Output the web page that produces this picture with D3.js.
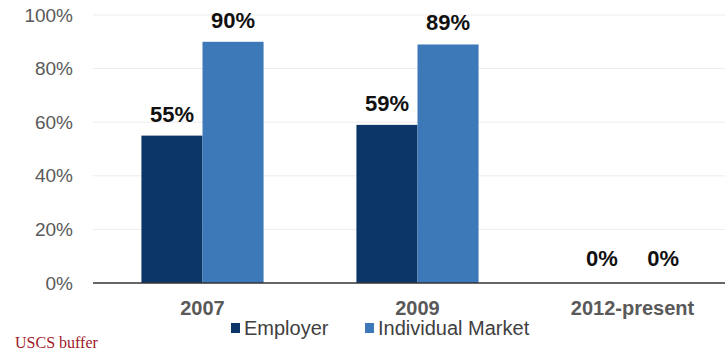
<!DOCTYPE html>
<html>
<head>
<meta charset="utf-8">
<script src="https://cdn.jsdelivr.net/npm/d3@7"></script>
<style>
  body { margin: 0; background: #fff; }
  svg { font-family: Arial, "Liberation Sans", sans-serif; }
</style>
</head>
<body>
<svg id="chart" width="725" height="350"></svg>
<script>
  const categories = ['2007', '2009', '2012-present'];
  const seriesNames = ['Employer', 'Individual Market'];
  const employer = [55, 59, 0];
  const individual = [90, 89, 0];
  const yTicks = [0, 20, 40, 60, 80, 100];
  const colors = ['#0c3667', '#3d79b8'];

  const svg = d3.select('#chart');
  const yBottom = 283;
  const yTop = 15;

  const data = categories.map((c, i) => ({
    cat: c,
    values: [employer[i], individual[i]]
  }));

  const yScale = d3.scaleLinear()
    .domain([0, 100])
    .range([yBottom, yTop]);

  const x0 = d3.scaleBand()
    .domain(categories)
    .range([95, 740])
    .padding(0);

  const x1 = d3.scaleBand()
    .domain(seriesNames)
    .range([0, x0.bandwidth()])
    .paddingInner(0)
    .paddingOuter(0.76);

  // gridlines
  svg.append('g')
    .selectAll('line').data(yTicks.filter(t => t > 0))
    .enter().append('line')
      .attr('x1', 93)
      .attr('x2', 725)
      .attr('y1', d => yScale(d))
      .attr('y2', d => yScale(d))
      .attr('stroke', '#ececec')
      .attr('stroke-width', 1);

  // y axis labels
  const yAxis = d3.axisLeft(yScale)
    .tickValues(yTicks)
    .tickFormat(d => d + '%')
    .tickSize(0)
    .tickPadding(0);

  const yAxisG = svg.append('g')
    .attr('transform', 'translate(73,0)')
    .call(yAxis);
  yAxisG.select('.domain').remove();
  yAxisG.selectAll('text')
    .attr('font-size', 19)
    .attr('fill', '#595959')
    .attr('font-family', 'Arial, "Liberation Sans", sans-serif');

  // bars
  const groups = svg.append('g')
    .selectAll('g').data(data)
    .enter().append('g')
      .attr('transform', d => `translate(${x0(d.cat)},0)`);

  groups.selectAll('rect')
    .data(d => d.values.map((v, i) => ({ key: seriesNames[i], v, i })))
    .enter().append('rect')
      .attr('x', d => x1(d.key))
      .attr('y', d => yScale(d.v))
      .attr('width', x1.bandwidth())
      .attr('height', d => yBottom - yScale(d.v))
      .attr('fill', d => colors[d.i]);

  groups.selectAll('text.val')
    .data(d => d.values.map((v, i) => ({ key: seriesNames[i], v, i })))
    .enter().append('text')
      .attr('class', 'val')
      .attr('x', d => x1(d.key) + x1.bandwidth() / 2)
      .attr('y', d => yScale(d.v) - (d.v === 0 ? 17 : 14))
      .attr('text-anchor', 'middle')
      .attr('font-size', 22)
      .attr('font-weight', 'bold')
      .attr('fill', '#111')
      .text(d => d.v + '%');

  // x axis
  const xAxis = d3.axisBottom(x0).tickSize(0).tickPadding(0);
  const xAxisG = svg.append('g')
    .attr('transform', `translate(0,${yBottom})`)
    .call(xAxis);
  xAxisG.select('.domain').remove();
  xAxisG.selectAll('text')
    .attr('dy', null)
    .attr('y', 32)
    .attr('font-size', 20)
    .attr('font-weight', 'bold')
    .attr('fill', '#595959')
    .attr('font-family', 'Arial, "Liberation Sans", sans-serif');

  svg.append('line')
    .attr('x1', 93).attr('x2', 725)
    .attr('y1', yBottom).attr('y2', yBottom)
    .attr('stroke', '#333')
    .attr('stroke-width', 1.5);

  // legend
  const legendX = [231, 365];
  const legend = svg.append('g')
    .selectAll('g').data(seriesNames)
    .enter().append('g')
      .attr('transform', (d, i) => `translate(${legendX[i]},328)`);
  legend.append('rect')
    .attr('x', 0).attr('y', -5)
    .attr('width', 9).attr('height', 10)
    .attr('fill', (d, i) => colors[i]);
  legend.append('text')
    .attr('x', 13)
    .attr('y', 7)
    .attr('font-size', 20)
    .attr('fill', '#404040')
    .text(d => d);

  // footer text (cut off at the bottom in the source image)
  svg.append('text')
    .attr('x', 15)
    .attr('y', 348)
    .style('font-family', '"Liberation Serif", "DejaVu Serif", serif')
    .attr('font-size', 16)
    .attr('fill', '#a0202a')
    .text('USCS buffer');
</script>
</body>
</html>
